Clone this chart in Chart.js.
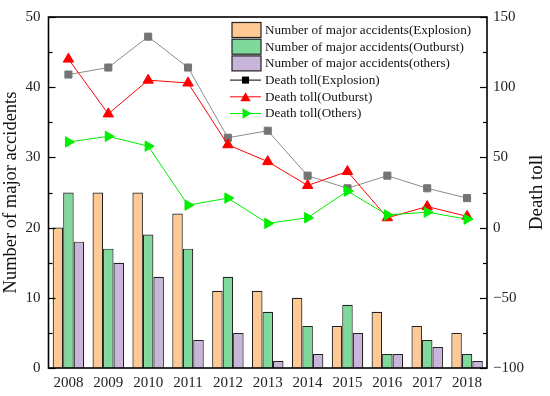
<!DOCTYPE html>
<html><head><meta charset="utf-8">
<script src="https://cdn.jsdelivr.net/npm/chart.js@4"></script>
<style>html,body{margin:0;padding:0;background:#fff}#wrap{width:550px;height:396px;position:relative}</style>
</head><body><div id="wrap"><canvas id="c" width="550" height="396"></canvas></div>
<script>
const years = ['2008','2009','2010','2011','2012','2013','2014','2015','2016','2017','2018'];
const explosionAccidents = [20,25,25,22,11,11,10,6,8,6,5];
const outburstAccidents = [25,17,19,17,13,8,6,9,2,4,2];
const otherAccidents = [18,15,13,4,5,1,2,5,2,3,1];
const explosionDeaths = [109,114,136,114,64,69,37,28,37,28,21];
const outburstDeaths = [120,81,105,103,59,47,30,40,7,15,8];
const otherDeaths = [61,65,58,16,21,3,7,26,9,11,6];
const leftRange = [0,50];
const rightRange = [-100,150];
const leftTitle = 'Number of major accidents';
const rightTitle = 'Death toll';

const FONT = '"Liberation Serif", "Times New Roman", serif';
const C_OR = '#FFC993', C_GR = '#7ED99A', C_PU = '#C9B4DA';

function drawMarker(ctx, style, x, y, r, fill) {
  ctx.save();
  ctx.fillStyle = fill;
  ctx.beginPath();
  if (style === 'rect') {
    const s = r * Math.SQRT1_2;
    ctx.rect(x - s, y - s, 2 * s, 2 * s);
  } else {
    const rot = style === 'tri-right' ? Math.PI / 2 : 0;
    for (let i = 0; i < 3; i++) {
      const a = rot + i * 2 * Math.PI / 3;
      const px = x + Math.sin(a) * r, py = y - Math.cos(a) * r;
      if (i === 0) ctx.moveTo(px, py); else ctx.lineTo(px, py);
    }
    ctx.closePath();
  }
  ctx.fill();
  ctx.restore();
}

const extras = {
  id: 'extras',
  afterDraw(chart) {
    const ctx = chart.ctx, a = chart.chartArea;
    const sy = chart.scales.y, sr = chart.scales.y1;
    ctx.save();
    // inward ticks
    ctx.strokeStyle = '#000'; ctx.lineWidth = 1.2;
    for (let v = leftRange[0]; v <= leftRange[1]; v += 5) {
      const p = Math.round(sy.getPixelForValue(v)) + 0.5;
      const len = v % 10 === 0 ? 7 : 4;
      ctx.beginPath(); ctx.moveTo(a.left, p); ctx.lineTo(a.left + len, p); ctx.stroke();
    }
    for (let v = rightRange[0]; v <= rightRange[1]; v += 25) {
      const p = Math.round(sr.getPixelForValue(v)) + 0.5;
      const len = v % 50 === 0 ? 7 : 4;
      ctx.beginPath(); ctx.moveTo(a.right, p); ctx.lineTo(a.right - len, p); ctx.stroke();
    }
    // frame
    ctx.lineWidth = 1.6;
    ctx.strokeRect(a.left, a.top, a.right - a.left, a.bottom - a.top);
    // right title
    ctx.fillStyle = '#111';
    ctx.font = '19px ' + FONT;
    ctx.textAlign = 'center'; ctx.textBaseline = 'middle';
    ctx.translate(537, (a.top + a.bottom) / 2);
    ctx.rotate(-Math.PI / 2);
    ctx.fillText(rightTitle, 0, 0);
    ctx.restore();

    // legend
    ctx.save();
    ctx.font = '13.2px ' + FONT;
    ctx.textBaseline = 'middle'; ctx.textAlign = 'left';
    const ds = chart.data.datasets;
    const legendMarkers = [null, null, null,
      {style:'rect', r:5, fill:'#000', line:'#000'},
      {style:'tri', r:6, fill:'#ff0000', line:'#ff0000'},
      {style:'tri-right', r:6, fill:'#00ee00', line:'#00ee00'}];
    for (let i = 0; i < ds.length; i++) {
      const yc = 30 + i * 16.7;
      if (i < 3) {
        ctx.fillStyle = ds[i].backgroundColor;
        ctx.fillRect(232, yc - 7.5, 29, 15);
        ctx.strokeStyle = '#222'; ctx.lineWidth = 1.2;
        ctx.strokeRect(232, yc - 7.5, 29, 15);
      } else {
        const m = legendMarkers[i];
        ctx.strokeStyle = m.line; ctx.lineWidth = 1;
        ctx.beginPath(); ctx.moveTo(230, yc); ctx.lineTo(261, yc); ctx.stroke();
        drawMarker(ctx, m.style, 245.5, yc + (m.style === 'tri' ? 1.5 : 0), m.r, m.fill);
      }
      ctx.fillStyle = '#111';
      ctx.fillText(ds[i].label, 265, yc + 0.5);
    }
    ctx.restore();
  }
};

const tickFont = {family: FONT, size: 15};
new Chart(document.getElementById('c'), {
  data: {
    labels: years,
    datasets: [
      {type:'bar', label:'Number of major accidents(Explosion)', data: explosionAccidents, backgroundColor: C_OR, borderColor:'#222', borderWidth:1.2, yAxisID:'y', order:3},
      {type:'bar', label:'Number of major accidents(Outburst)', data: outburstAccidents, backgroundColor: C_GR, borderColor:'#222', borderWidth:1.2, yAxisID:'y', order:3},
      {type:'bar', label:'Number of major accidents(others)', data: otherAccidents, backgroundColor: C_PU, borderColor:'#222', borderWidth:1.2, yAxisID:'y', order:3},
      {type:'line', label:'Death toll(Explosion)', data: explosionDeaths, borderColor:'#8c8c8c', borderWidth:1, pointStyle:'rect', pointRadius:5, pointBackgroundColor:'#747474', pointBorderColor:'#747474', pointBorderWidth:1, yAxisID:'y1', order:2},
      {type:'line', label:'Death toll(Outburst)', data: outburstDeaths, borderColor:'#ff0000', borderWidth:1, pointStyle:'triangle', pointRadius:6, pointBackgroundColor:'#ff0000', pointBorderColor:'#ff0000', pointBorderWidth:1, yAxisID:'y1', order:1},
      {type:'line', label:'Death toll(Others)', data: otherDeaths, borderColor:'#00ee00', borderWidth:1, pointStyle:'triangle', pointRotation:90, pointRadius:6, pointBackgroundColor:'#00ee00', pointBorderColor:'#00ee00', pointBorderWidth:1, yAxisID:'y1', order:0}
    ]
  },
  options: {
    responsive:false, animation:false, devicePixelRatio:1,
    layout:{padding:{top:12, left:0, right:0, bottom:0}},
    plugins:{legend:{display:false}, tooltip:{enabled:false}},
    datasets:{bar:{categoryPercentage:0.79, barPercentage:1}},
    scales:{
      x:{offset:true, grid:{display:false, drawTicks:false}, border:{display:false},
         ticks:{font:tickFont, color:'#222', padding:6, maxRotation:0},
         afterFit(s){ s.height = 28; }},
      y:{position:'left', min:leftRange[0], max:leftRange[1], grid:{display:false, drawTicks:false}, border:{display:false},
         ticks:{stepSize:10, font:tickFont, color:'#222', padding:8},
         title:{display:true, text:leftTitle, font:{family:FONT, size:18.5}, color:'#111', padding:0},
         afterFit(s){ s.width = 48.5; }},
      y1:{position:'right', min:rightRange[0], max:rightRange[1], grid:{display:false, drawTicks:false}, border:{display:false},
         ticks:{stepSize:50, font:tickFont, color:'#222', padding:6, callback:v => (v < 0 ? '\u2212' + Math.abs(v) : String(v))},
         afterFit(s){ s.width = 63; }}
    }
  },
  plugins:[extras]
});
</script></body></html>
